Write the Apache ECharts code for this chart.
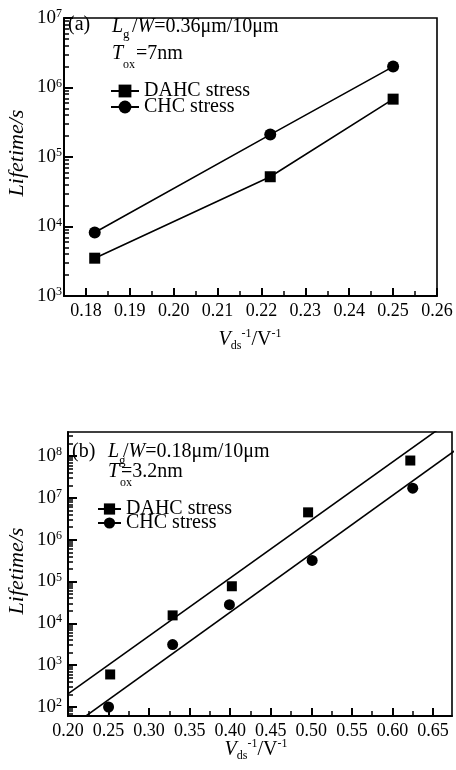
<!DOCTYPE html>
<html>
<head>
<meta charset="utf-8">
<script src="https://cdn.jsdelivr.net/npm/echarts@6/dist/echarts.min.js"></script>
<style>
  html, body { margin: 0; padding: 0; background: #fff; }
  #main { width: 456px; height: 770px; }
</style>
</head>
<body>
<div id="main"></div>
<script>
// (a) Lg/W = 0.36um/10um
const topX = [0.182, 0.222, 0.25];
const topDAHC = [3500, 52000, 680000];
const topCHC = [8200, 210000, 2000000];
const topXTicks = [0.18, 0.19, 0.20, 0.21, 0.22, 0.23, 0.24, 0.25, 0.26];
const topYDecades = [3, 4, 5, 6, 7];

// (b) Lg/W = 0.18um/10um
const botXDAHC = [0.252, 0.329, 0.402, 0.496, 0.622];
const botDAHC = [600, 15500, 77000, 4500000, 78000000];
const botXCHC = [0.250, 0.329, 0.399, 0.501, 0.625];
const botCHC = [100, 3100, 28000, 320000, 17000000];
// fitted lines, two end points each
const fitDAHCX = [0.20, 0.68];
const fitDAHC = [205, 920000000];
const fitCHCX = [0.20, 0.68];
const fitCHC = [30, 148000000];
const botXTicks = [0.20, 0.25, 0.30, 0.35, 0.40, 0.45, 0.50, 0.55, 0.60, 0.65];
const botYDecades = [2, 3, 4, 5, 6, 7, 8];

const FONT = "'Liberation Serif', 'DejaVu Serif', serif";
const lg = Math.log10;

function pairs(xs, ys) {
  return xs.map((x, i) => [x, lg(ys[i])]);
}

// minor ticks of a log axis, in log space
function logMinor(lo, hi) {
  const out = [];
  for (let n = Math.floor(lo); n < hi; n++) {
    for (let k = 2; k <= 9; k++) {
      const v = n + lg(k);
      if (v > lo && v < hi) out.push(v);
    }
  }
  return out;
}
function linMinor(lo, hi, step) {
  const out = [];
  for (let i = 0; ; i++) {
    const v = +(lo + i * step).toFixed(4);
    if (v > hi) break;
    out.push(v);
  }
  return out;
}

const yLabel = {
  fontFamily: FONT, color: '#000',
  formatter: v => '{b|10}{s|' + Math.round(v) + '}',
  rich: {
    b: { fontFamily: FONT, fontSize: 19, lineHeight: 20, color: '#000' },
    s: { fontFamily: FONT, fontSize: 12, lineHeight: 12, verticalAlign: 'top', color: '#000' }
  }
};
const xLabel = {
  fontFamily: FONT, fontSize: 18, color: '#000',
  formatter: v => v.toFixed(2)
};
const axLine = { show: true, onZero: false, lineStyle: { color: '#000', width: 2 } };

function mainX(grid, min, max, ticks, margin) {
  return {
    type: 'value', gridIndex: grid, position: 'bottom', min: min, max: max,
    axisLine: axLine, splitLine: { show: false },
    axisTick: { show: true, inside: true, length: 8, customValues: ticks, lineStyle: { color: '#000', width: 2 } },
    axisLabel: Object.assign({ customValues: ticks, margin: margin }, xLabel)
  };
}
function minorAxis(grid, min, max, ticks, pos) {
  return {
    type: 'value', gridIndex: grid, position: pos, offset: 0, min: min, max: max,
    axisLine: { show: false, onZero: false }, splitLine: { show: false }, axisLabel: { show: false },
    axisTick: { show: true, inside: true, length: 5, customValues: ticks, lineStyle: { color: '#000', width: 1.5 } }
  };
}
function mainY(grid, min, max, ticks, margin) {
  return {
    type: 'value', gridIndex: grid, position: 'left', min: min, max: max,
    axisLine: axLine, splitLine: { show: false },
    axisTick: { show: true, inside: true, length: 9, customValues: ticks, lineStyle: { color: '#000', width: 2 } },
    axisLabel: Object.assign({ customValues: ticks, margin: margin }, yLabel)
  };
}

const topXMin = 0.175, topXMax = 0.26, topYMin = 3, topYMax = 7;
const botXMin = 0.20, botXMax = 0.6734, botYMin = 1.785, botYMax = 8.574;

const symStyle = { color: '#000', opacity: 1 };
const lineSt = { color: '#000', width: 1.6 };

function txt(x, y, text, size, extra) {
  return {
    type: 'text', x: x, y: y, silent: true,
    style: Object.assign({
      text: text, fontFamily: FONT, fontSize: size, fill: '#000',
      verticalAlign: 'middle', align: 'left'
    }, extra || {})
  };
}
function vTitle(x, y) {
  return {
    type: 'text', x: x, y: y, rotation: Math.PI / 2, silent: true,
    style: { text: 'Lifetime/s', fontFamily: FONT, fontSize: 22, fontStyle: 'italic',
      fill: '#000', align: 'center', verticalAlign: 'middle' }
  };
}
function xTitle(x, y) {
  return {
    type: 'text', x: x, y: y, silent: true,
    style: {
      text: '{v|V}{sub|ds}{sup|-1}{n|/V}{sup|-1}',
      align: 'center', verticalAlign: 'middle', fill: '#000',
      rich: {
        v: { fontFamily: FONT, fontSize: 20, fontStyle: 'italic', lineHeight: 24 },
        n: { fontFamily: FONT, fontSize: 20, lineHeight: 24 },
        sub: { fontFamily: FONT, fontSize: 12, lineHeight: 12, verticalAlign: 'bottom' },
        sup: { fontFamily: FONT, fontSize: 12, lineHeight: 12, verticalAlign: 'top' }
      }
    }
  };
}
function lwText(x, y, rest) {
  return {
    type: 'text', x: x, y: y, silent: true,
    style: {
      text: '{n|/}{i|W}{n|' + rest + '}', fill: '#000', verticalAlign: 'middle',
      rich: {
        n: { fontFamily: FONT, fontSize: 20 },
        i: { fontFamily: FONT, fontSize: 20, fontStyle: 'italic' }
      }
    }
  };
}
const it = { fontStyle: 'italic' };

const chart = echarts.init(document.getElementById('main'), null, { renderer: 'canvas' });

const option = {
  backgroundColor: '#fff',
  animation: false,
  grid: [
    { left: 64, top: 18, width: 373, height: 278, show: true, borderColor: '#000', borderWidth: 1.6, backgroundColor: 'transparent' },
    { left: 68, top: 432, width: 384, height: 284, show: true, borderColor: '#000', borderWidth: 1.6, backgroundColor: 'transparent' }
  ],
  legend: [
    {
      data: ['DAHC stress', 'CHC stress'], orient: 'vertical', left: 110, top: 81, padding: 0,
      itemWidth: 28, itemHeight: 16, itemGap: -4,
      textStyle: { fontFamily: FONT, fontSize: 20, color: '#000' }
    },
    {
      data: ['DAHC stress', 'CHC stress'], orient: 'vertical', left: 97, top: 499, padding: 0,
      itemWidth: 23, itemHeight: 14, itemGap: -6,
      textStyle: { fontFamily: FONT, fontSize: 20, color: '#000' }
    }
  ],
  xAxis: [
    mainX(0, topXMin, topXMax, topXTicks, 6),
    minorAxis(0, topXMin, topXMax, linMinor(0.175, 0.26, 0.005), 'bottom'),
    mainX(1, botXMin, botXMax, botXTicks, 6),
    minorAxis(1, botXMin, botXMax, linMinor(0.20, 0.6734, 0.025), 'bottom')
  ],
  yAxis: [
    mainY(0, topYMin, topYMax, topYDecades, 2),
    minorAxis(0, topYMin, topYMax, logMinor(topYMin, topYMax), 'left'),
    mainY(1, botYMin, botYMax, botYDecades, 6),
    minorAxis(1, botYMin, botYMax, logMinor(botYMin, botYMax), 'left')
  ],
  series: [
    { name: 'DAHC stress', type: 'line', xAxisIndex: 0, yAxisIndex: 0, data: pairs(topX, topDAHC),
      symbol: 'rect', symbolSize: 11, itemStyle: symStyle, lineStyle: lineSt },
    { name: 'CHC stress', type: 'line', xAxisIndex: 0, yAxisIndex: 0, data: pairs(topX, topCHC),
      symbol: 'circle', symbolSize: 12, itemStyle: symStyle, lineStyle: lineSt },
    { name: 'fit DAHC', type: 'line', xAxisIndex: 2, yAxisIndex: 2, data: pairs(fitDAHCX, fitDAHC),
      showSymbol: false, lineStyle: lineSt, clip: true },
    { name: 'fit CHC', type: 'line', xAxisIndex: 2, yAxisIndex: 2, data: pairs(fitCHCX, fitCHC),
      showSymbol: false, lineStyle: lineSt, clip: true },
    { name: 'DAHC stress', type: 'scatter', xAxisIndex: 2, yAxisIndex: 2, data: pairs(botXDAHC, botDAHC),
      symbol: 'rect', symbolSize: 10, itemStyle: symStyle },
    { name: 'CHC stress', type: 'scatter', xAxisIndex: 2, yAxisIndex: 2, data: pairs(botXCHC, botCHC),
      symbol: 'circle', symbolSize: 11, itemStyle: symStyle }
  ],
  graphic: [
    // (a)
    txt(68, 25, '(a)', 20),
    txt(112, 27, 'L', 20, it),
    txt(123, 35, 'g', 13),
    lwText(132, 27, '=0.36μm/10μm'),
    txt(112, 54, 'T', 20, it),
    txt(123, 65, 'ox', 12),
    txt(136, 54, '=7nm', 20),
    vTitle(17, 153),
    xTitle(250, 340),
    // (b)
    txt(72, 452, '(b)', 20),
    txt(108, 452, 'L', 20, it),
    txt(119, 461, 'g', 13),
    lwText(123, 452, '=0.18μm/10μm'),
    txt(108, 472, 'T', 20, it),
    txt(120, 483, 'ox', 12),
    txt(121, 472, '=3.2nm', 20),
    vTitle(17, 571),
    xTitle(256, 750)
  ]
};

chart.setOption(option);
</script>
</body>
</html>
